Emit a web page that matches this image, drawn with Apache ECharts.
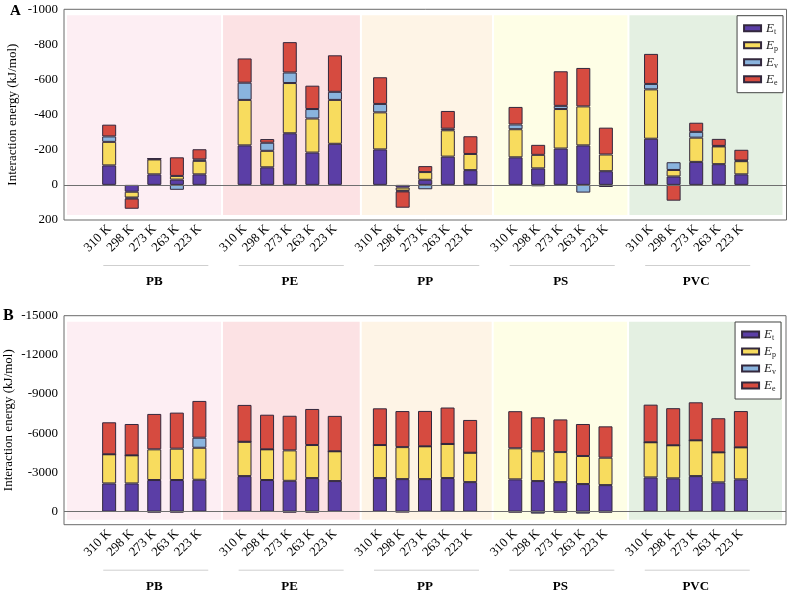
<!DOCTYPE html>
<html><head><meta charset="utf-8">
<script src="https://cdn.jsdelivr.net/npm/echarts@6/dist/echarts.min.js"></script>
<style>html,body{margin:0;padding:0;background:#fff}#c{width:793px;height:599px}</style>
</head><body><div id="c"></div>
<script>
// ---------- data ----------
const groups = ['PB', 'PE', 'PP', 'PS', 'PVC'];
const temps = ['310 K', '298 K', '273 K', '263 K', '223 K'];
const seriesNames = ['Et', 'Ep', 'Ev', 'Ee'];
const yTicksA = [-1000, -800, -600, -400, -200, 0, 200];
const yTicksB = [-15000, -12000, -9000, -6000, -3000, 0];

// Panel A (values in group order PB, PE, PP, PS, PVC; each 310,298,273,263,223 K)
const aEt = [-111, 39, -60, -30, -60,   -225, -100, -294, -184, -234,   -202, 15, -29, -161, -84,   -157, -94, -207, -225, -78,   -263, -48, -131, -118, -60];
const aEp = [-134, 33, -85, -21, -77,   -259, -94, -286, -194, -250,    -211, 18, -44, -150, -92,   -160, -77, -225, -222, -95,   -281, -37, -138, -101, -75];
const aEv = [-31, 6, -4, 28, -8,        -98, -46, -60, -54, -46,        -48, 4, 25, -9, 3,          -27, 8, -18, 44, 12,          -31, -44, -33, -3, -4];
const aEe = [-67, 58, 0, -106, -58,     -138, -21, -173, -133, -208,    -152, 93, -34, -101, -101,  -100, -57, -197, -219, -153,  -171, 90, -52, -40, -61];

// Panel B
const bEt = [-2160, -2160, -2420, -2420, -2440,   -2720, -2420, -2360, -2570, -2340,   -2570, -2490, -2490, -2570, -2260,   -2470, -2340, -2260, -2110, -2030,   -2620, -2550, -2720, -2240, -2470];
const bEp = [-2230, -2150, -2350, -2400, -2450,   -2630, -2350, -2330, -2530, -2280,   -2530, -2450, -2510, -2610, -2250,   -2380, -2280, -2300, -2150, -2100,   -2690, -2530, -2740, -2300, -2450];
const bEv = [0, 0, 60, 60, -770,                  0, 0, 60, 60, 0,                     0, 40, 0, 0, 0,                      60, 150, 60, 150, 60,                0, 0, 0, 0, 0];
const bEe = [-2450, -2400, -2710, -2760, -2815,   -2820, -2650, -2650, -2760, -2710,   -2810, -2760, -2710, -2790, -2510,   -2840, -2600, -2500, -2450, -2400,   -2880, -2840, -2910, -2610, -2780];

// ---------- styling ----------
const FONT = '"Liberation Serif", "Times New Roman", serif';
const colors = ['#5B3EA6', '#F8DC5E', '#8AB4DE', '#D64B40'];
const bandColors = ['#FDEEF3', '#FCE2E4', '#FEF4E6', '#FEFEE6', '#E4F0E2'];
const bandEdges = [0, 7, 13.15, 19, 25, 32];

// category slots: 2 empty, 5 temps, 1 empty, ..., 2 empty
const cats = ['', ''];
groups.forEach((g, gi) => {
  temps.forEach(t => cats.push(t));
  cats.push('');
});
cats.push('');
function slot(k) { return 2 + Math.floor(k / 5) * 6 + (k % 5); }
function expand(arr) {
  const out = new Array(cats.length).fill('-');
  arr.forEach((v, k) => { out[slot(k)] = v; });
  return out;
}

const gridA = { left: 64, right: 6.5, top: 9.3, height: 210.7 };
const gridB = { left: 64, right: 7, top: 315.7, height: 209 };

function bandRender(params, api) {
  const i = params.dataIndex;
  const cs = params.coordSys;
  const p0 = api.coord([0, 0])[0];
  const p1 = api.coord([1, 0])[0];
  const step = p1 - p0;
  let x0 = p0 + bandEdges[i] * step;
  let x1 = p0 + bandEdges[i + 1] * step;
  x0 += (i === 0 ? 3 : 1);
  x1 -= (i === bandEdges.length - 2 ? 4 : 1);
  return {
    type: 'rect', silent: true,
    shape: { x: x0, y: cs.y + 6, width: x1 - x0, height: cs.height - 11 },
    style: { fill: bandColors[i] }
  };
}

function xAxisCfg(gi) {
  return {
    type: 'category', gridIndex: gi, data: cats, boundaryGap: false,
    axisLine: { show: false, onZero: false }, axisTick: { show: false },
    splitLine: { show: false },
    axisLabel: { interval: 0, rotate: 45, margin: 7, color: '#000', fontFamily: FONT, fontSize: 13 }
  };
}
function yAxisCfg(gi, min, max, interval, ticks, gap) {
  return {
    type: 'value', gridIndex: gi, inverse: true, min: min, max: max, interval: interval,
    axisLine: { show: false }, axisTick: { show: false }, splitLine: { show: false },
    axisLabel: { color: '#000', fontFamily: FONT, fontSize: 13, margin: 6,
      formatter: v => (ticks.indexOf(v) >= 0 ? String(v) : '') },
    name: 'Interaction energy (kJ/mol)', nameLocation: 'middle', nameGap: gap,
    nameMoveOverlap: false,
    nameTextStyle: { color: '#000', fontFamily: FONT, fontSize: 13 }
  };
}

const panelData = [[aEt, aEp, aEv, aEe], [bEt, bEp, bEv, bEe]];
const series = [];
[0, 1].forEach(p => {
  series.push({
    type: 'custom', xAxisIndex: p, yAxisIndex: p, z: 0, silent: true,
    renderItem: bandRender,
    data: groups.map((g, i) => [i * 6 + 4, 0])
  });
  seriesNames.forEach((n, si) => {
    const s = {
      name: n, type: 'bar', xAxisIndex: p, yAxisIndex: p, stack: 'panel' + p,
      barWidth: 14, z: 2,
      itemStyle: { color: colors[si], borderColor: '#33283d', borderWidth: 1 },
      data: expand(panelData[p][si])
    };
    if (si === 0) {
      s.markLine = {
        silent: true, symbol: 'none', label: { show: false },
        lineStyle: { color: '#6f6f6f', width: 1, type: 'solid' },
        data: [{ yAxis: 0 }], z: 5
      };
    }
    series.push(s);
  });
});

const legendText = {
  formatter: name => '{e|E}{s|' + name.slice(1) + '}',
  textStyle: {
    rich: {
      e: { fontFamily: FONT, fontStyle: 'italic', fontSize: 13, lineHeight: 15, color: '#222' },
      s: { fontFamily: FONT, fontSize: 8, lineHeight: 8, color: '#222', verticalAlign: 'bottom' }
    }
  }
};
function legendCfg(right, top) {
  return Object.assign({
    data: seriesNames, orient: 'vertical', right: right, top: top,
    icon: 'rect', itemWidth: 17, itemHeight: 6, itemGap: 3,
    padding: [6, 5, 6, 6], borderColor: '#444', borderWidth: 1,
    backgroundColor: '#fff', selectedMode: false, z: 10
  }, legendText);
}

const gridBase = { show: true, borderColor: '#6a6a6a', borderWidth: 1, backgroundColor: 'transparent',
  containLabel: false, outerBoundsMode: 'none' };

const option = {
  animation: false,
  backgroundColor: '#fff',
  textStyle: { fontFamily: FONT },
  title: [
    { text: 'A', left: 10, top: 4, padding: 0, textStyle: { fontFamily: FONT, fontWeight: 'bold', fontSize: 15, color: '#000' } },
    { text: 'B', left: 3, top: 308, padding: 0, textStyle: { fontFamily: FONT, fontWeight: 'bold', fontSize: 16, color: '#000' } }
  ],
  legend: [legendCfg(10, 15.7), legendCfg(12, 322)],
  grid: [Object.assign({}, gridBase, gridA), Object.assign({}, gridBase, gridB)],
  xAxis: [xAxisCfg(0), xAxisCfg(1)],
  yAxis: [yAxisCfg(0, -1000, 200, 200, yTicksA, 45), yAxisCfg(1, -15000, 1000, 3000, yTicksB, 49)],
  series: series
};

const chart = echarts.init(document.getElementById('c'), null, { renderer: 'canvas' });
chart.setOption(option);

// group labels + underline
const graphics = [];
[[gridA, 0], [gridB, 1]].forEach(([gr, p]) => {
  const bottom = gr.top + gr.height;
  groups.forEach((g, gi) => {
    const c = chart.convertToPixel({ xAxisIndex: p }, gi * 6 + 4);
    graphics.push({
      type: 'line', silent: true,
      shape: { x1: c - 51, y1: bottom + 45.5, x2: c + 54, y2: bottom + 45.5 },
      style: { stroke: '#cfcfcf', lineWidth: 1 }
    });
    graphics.push({
      type: 'text', silent: true, x: c, y: bottom + 61.5,
      style: { text: g, font: 'bold 13px ' + FONT, align: 'center', verticalAlign: 'middle', fill: '#000' }
    });
  });
});
chart.setOption({ graphic: graphics });
</script></body></html>
